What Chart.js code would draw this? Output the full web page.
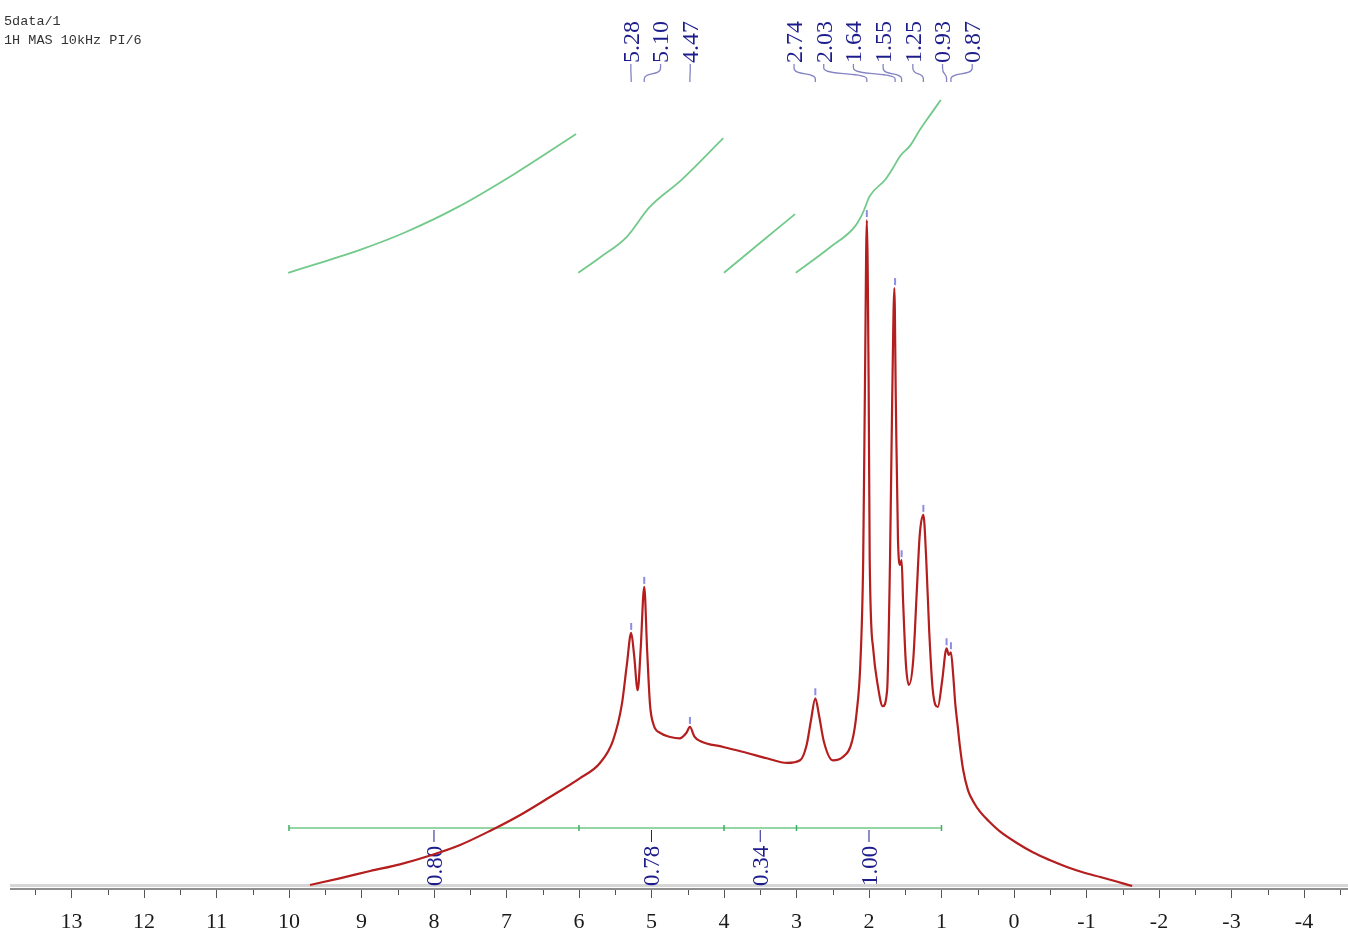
<!DOCTYPE html>
<html>
<head>
<meta charset="utf-8">
<script src="https://cdn.jsdelivr.net/npm/chart.js@4.4.0/dist/chart.umd.min.js"></script>
<style>
  html, body { margin: 0; padding: 0; background: #fff; }
</style>
</head>
<body>
<canvas id="nmr" width="1348" height="934"></canvas>
<script>
// spectrum: ppm and % of the tallest peak (2.03)
let specPpm = [9.71, 9.30, 8.88, 8.47, 8.03, 7.64, 7.23, 6.81, 6.40, 5.99, 5.71, 5.53, 5.41, 5.34, 5.28, 5.24, 5.19, 5.15, 5.10, 5.06,
  5.02, 4.97, 4.88, 4.74, 4.61, 4.52, 4.47, 4.41, 4.33, 4.01, 3.68, 3.41, 3.13, 2.95, 2.86, 2.80, 2.74, 2.69, 2.62, 2.50,
  2.36, 2.23, 2.17, 2.12, 2.08, 2.055, 2.03, 2.005, 1.99, 1.94, 1.88, 1.81, 1.75, 1.71, 1.68, 1.65, 1.63, 1.60, 1.57, 1.55,
  1.53, 1.49, 1.45, 1.39, 1.34, 1.30, 1.25, 1.21, 1.17, 1.12, 1.05, 0.99, 0.93, 0.90, 0.87, 0.84, 0.81, 0.775, 0.745, 0.70,
  0.634, 0.55, 0.469, 0.35, 0.19, -0.04, -0.26, -0.50, -0.73, -0.98, -1.19, -1.39, -1.63];
let specInt = [0.3, 1.3, 2.4, 3.4, 4.8, 6.3, 8.4, 10.8, 13.5, 16.3, 18.6, 22.0, 27.3, 33.3, 38.1, 34.8, 29.5, 35.5, 45.0, 35.5,
  27.3, 24.3, 23.1, 22.5, 22.3, 23.1, 24.0, 22.6, 21.9, 21.0, 20.1, 19.3, 18.6, 19.0, 21.3, 25.0, 28.3, 25.8, 21.7, 19.0,
  19.5, 22.0, 26.2, 33.3, 49.0, 76.0, 100, 76.0, 49.0, 35.5, 30.3, 27.1, 29.5, 49.0, 73.0, 89.8, 73.0, 52.0, 48.3, 49.0,
  43.0, 33.3, 30.3, 34.0, 44.5, 52.8, 55.8, 49.0, 38.5, 29.5, 27.0, 31.0, 35.8, 34.8, 35.2, 32.0, 27.5, 24.0, 21.0, 17.5,
  14.5, 12.6, 11.3, 9.9, 8.3, 6.6, 5.2, 4.0, 3.0, 2.1, 1.5, 0.9, 0.15];

// picked peaks
let peakPpm = [5.28, 5.10, 4.47, 2.74, 2.03, 1.64, 1.55, 1.25, 0.93, 0.87];
let peakLabels = ['5.28', '5.10', '4.47', '2.74', '2.03', '1.64', '1.55', '1.25', '0.93', '0.87'];
let peakHeight = [38.1, 45.0, 24.0, 28.3, 100, 89.8, 49.0, 55.8, 35.8, 35.2];

// integral curves (same % units)
let int1Ppm = [10.01, 9.03, 8.41, 7.68, 6.88, 6.04];
let int1Val = [92.1, 95.5, 98.1, 101.9, 107.0, 112.9];
let int2Ppm = [6.01, 5.71, 5.34, 5.03, 4.59, 4.01];
let int2Val = [92.1, 94.4, 97.5, 101.9, 106.0, 112.3];
let int3Ppm = [4.00, 3.50, 3.02];
let int3Val = [92.1, 96.6, 100.9];
let int4Ppm = [3.01, 2.54, 2.19, 2.08, 1.99, 1.78, 1.67, 1.57, 1.43, 1.30, 1.16, 1.01];
let int4Val = [92.1, 95.9, 99.1, 101.2, 103.6, 106.0, 107.8, 109.6, 111.2, 113.5, 115.7, 118.0];

// integration regions
let regFrom = [10, 6, 4, 3];
let regTo = [6, 4, 3, 1];
let regValue = ['0.80', '0.78', '0.34', '1.00'];

let header = ['5data/1', '1H MAS 10kHz PI/6'];

const NAVY = '#1c1c8c';
const GREEN = '#72c98a';

function pts(xs, ys) {
  return xs.map((x, i) => ({ x: x, y: ys[i] }));
}

// spread peak labels: merge close ones into groups centred on their peaks
function spreadLabels(px, gap) {
  let groups = [];
  px.forEach((p, i) => {
    groups.push({ items: [i], lo: p, hi: p });
    while (groups.length > 1) {
      let a = groups[groups.length - 2], b = groups[groups.length - 1];
      let aRight = (a.lo + a.hi) / 2 + (a.items.length - 1) * gap / 2;
      let bLeft = (b.lo + b.hi) / 2 - (b.items.length - 1) * gap / 2;
      if (bLeft - aRight < gap * 1.4) {
        groups.splice(groups.length - 2, 2, { items: a.items.concat(b.items), lo: Math.min(a.lo, b.lo), hi: Math.max(a.hi, b.hi) });
      } else break;
    }
  });
  let out = [];
  groups.forEach(g => {
    let start = (g.lo + g.hi) / 2 - (g.items.length - 1) * gap / 2;
    g.items.forEach((idx, k) => { out[idx] = start + k * gap; });
  });
  return out;
}

function vText(ctx, txt, cx, startY, size) {
  ctx.save();
  ctx.translate(cx, startY);
  ctx.rotate(-Math.PI / 2);
  ctx.font = size + 'px "Liberation Serif", "Times New Roman", serif';
  ctx.textAlign = 'left';
  ctx.textBaseline = 'alphabetic';
  ctx.fillText(txt, 0, size * 0.33);
  ctx.restore();
}

const nmrDecor = {
  id: 'nmrDecor',
  beforeDatasetsDraw(chart) {
    const ctx = chart.ctx;
    const xs = chart.scales.x;
    const area = chart.chartArea;
    const b = area.bottom;

    // axis: light band, dark line, ticks
    ctx.save();
    ctx.fillStyle = '#d6d6d6';
    ctx.fillRect(area.left, b - 3, area.right - area.left, 3);
    ctx.strokeStyle = '#6a6a6a';
    ctx.lineWidth = 1.5;
    ctx.beginPath();
    ctx.moveTo(area.left, b + 2);
    ctx.lineTo(area.right, b + 2);
    ctx.stroke();
    ctx.lineWidth = 1;
    ctx.strokeStyle = '#555';
    xs.ticks.forEach(t => {
      const p = Math.round(xs.getPixelForValue(t.value)) + 0.5;
      const major = Math.abs(t.value - Math.round(t.value)) < 1e-6;
      ctx.beginPath();
      ctx.moveTo(p, b + 3);
      ctx.lineTo(p, b + (major ? 11 : 8));
      ctx.stroke();
    });

    // integration bar
    const barY = b - 59;
    ctx.strokeStyle = GREEN;
    ctx.lineWidth = 1.6;
    ctx.beginPath();
    ctx.moveTo(xs.getPixelForValue(regFrom[0]), barY);
    ctx.lineTo(xs.getPixelForValue(regTo[regTo.length - 1]), barY);
    ctx.stroke();
    ctx.strokeStyle = '#3fae5e';
    ctx.lineWidth = 1.5;
    regFrom.concat(regTo[regTo.length - 1]).forEach(v => {
      const p = xs.getPixelForValue(v);
      ctx.beginPath();
      ctx.moveTo(p, barY - 3);
      ctx.lineTo(p, barY + 3);
      ctx.stroke();
    });
    ctx.fillStyle = NAVY;
    ctx.strokeStyle = NAVY;
    ctx.lineWidth = 1;
    regValue.forEach((val, i) => {
      const p = xs.getPixelForValue((regFrom[i] + regTo[i]) / 2);
      ctx.beginPath();
      ctx.moveTo(p, barY + 2);
      ctx.lineTo(p, barY + 14);
      ctx.stroke();
      vText(ctx, val, p, b - 1, 23);
    });
    ctx.restore();
  },
  afterDatasetsDraw(chart) {
    const ctx = chart.ctx;
    const xs = chart.scales.x, ys = chart.scales.y;

    ctx.save();
    // peak pick marks
    ctx.strokeStyle = '#8c8ce6';
    ctx.lineWidth = 2;
    peakPpm.forEach((v, i) => {
      const px = xs.getPixelForValue(v);
      const py = ys.getPixelForValue(peakHeight[i]);
      ctx.beginPath();
      ctx.moveTo(px, py - 10);
      ctx.lineTo(px, py - 3);
      ctx.stroke();
    });

    // peak labels with connectors
    const peakPx = peakPpm.map(v => xs.getPixelForValue(v));
    const labX = spreadLabels(peakPx, 29.7);
    ctx.strokeStyle = '#8484c4';
    ctx.lineWidth = 1.3;
    labX.forEach((lx, i) => {
      const px = peakPx[i];
      ctx.beginPath();
      ctx.moveTo(lx, 64);
      ctx.lineTo(lx, 68);
      ctx.bezierCurveTo(lx, 76, px, 72, px, 79);
      ctx.lineTo(px, 82);
      ctx.stroke();
    });
    ctx.fillStyle = NAVY;
    labX.forEach((lx, i) => vText(ctx, peakLabels[i], lx, 63, 24));

    // header
    ctx.fillStyle = '#333';
    ctx.font = '13.5px "Liberation Mono", "DejaVu Sans Mono", monospace';
    ctx.textAlign = 'left';
    ctx.textBaseline = 'alphabetic';
    header.forEach((h, i) => ctx.fillText(h, 4, 25 + i * 19));
    ctx.restore();
  }
};

const lineStyle = (color, w) => ({
  showLine: true, borderColor: color, borderWidth: w, pointRadius: 0,
  cubicInterpolationMode: 'monotone', fill: false
});

new Chart(document.getElementById('nmr').getContext('2d'), {
  type: 'scatter',
  data: {
    datasets: [
      Object.assign({ label: 'int1', data: pts(int1Ppm, int1Val) }, lineStyle(GREEN, 1.8)),
      Object.assign({ label: 'int2', data: pts(int2Ppm, int2Val) }, lineStyle(GREEN, 1.8)),
      Object.assign({ label: 'int3', data: pts(int3Ppm, int3Val) }, lineStyle(GREEN, 1.8)),
      Object.assign({ label: 'int4', data: pts(int4Ppm, int4Val) }, lineStyle(GREEN, 1.8)),
      Object.assign({ label: '1H', data: pts(specPpm, specInt) }, lineStyle('#b41e1e', 2.2))
    ]
  },
  options: {
    responsive: false,
    animation: false,
    layout: { padding: { left: 10, right: 0, top: 0, bottom: 0 } },
    plugins: { legend: { display: false }, tooltip: { enabled: false } },
    scales: {
      x: {
        type: 'linear',
        reverse: true,
        min: -4.607,
        max: 13.848,
        grid: { display: false, drawTicks: false },
        border: { display: false },
        ticks: {
          stepSize: 0.5,
          includeBounds: false,
          autoSkip: false,
          maxRotation: 0,
          padding: 22,
          color: '#1a1a1a',
          font: { family: '"Liberation Serif", "Times New Roman", serif', size: 22 },
          callback: v => Math.abs(v - Math.round(v)) < 1e-6 ? String(Math.round(v)) : ''
        },
        afterFit: s => { s.height = 47; s.paddingLeft = 0; s.paddingRight = 0; }
      },
      y: { display: false, min: 0, max: 133 }
    }
  },
  plugins: [nmrDecor]
});
</script>
</body>
</html>
